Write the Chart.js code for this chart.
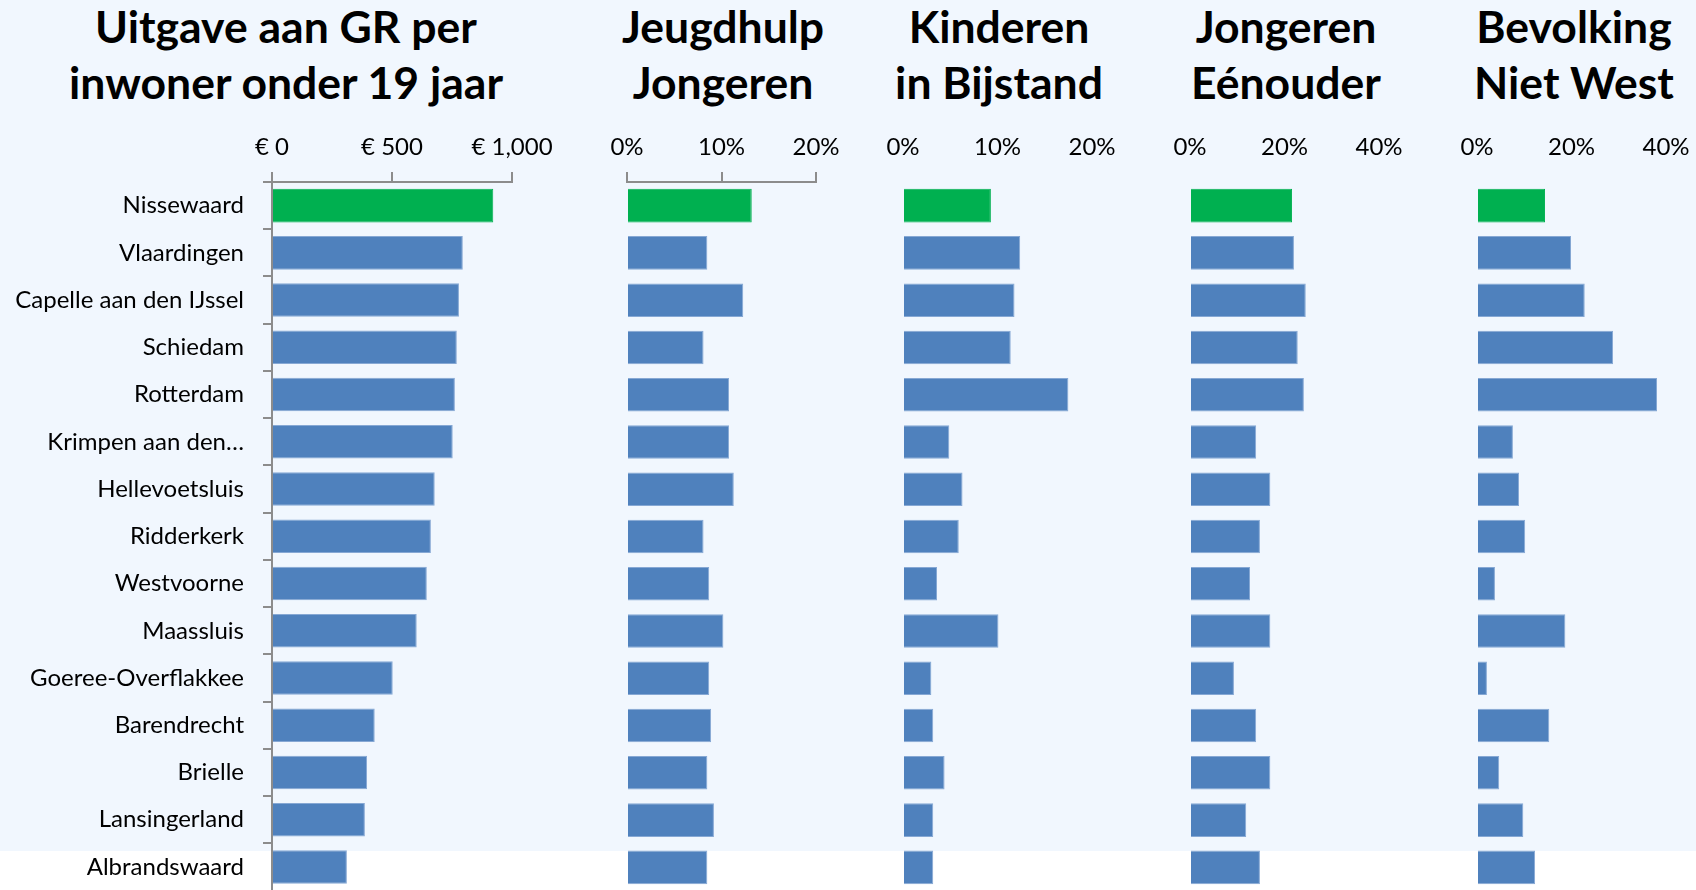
<!DOCTYPE html>
<html lang="nl">
<head>
<meta charset="UTF-8">
<title>Uitgave aan GR per inwoner onder 19 jaar</title>
<script src="https://cdn.jsdelivr.net/npm/chart.js@4"></script>
<style>
  * { margin: 0; padding: 0; box-sizing: border-box; }
  html, body { width: 1696px; height: 890px; overflow: hidden; background: #fff; font-family: Lato, 'Open Sans', sans-serif; }
  .band { position: absolute; left: 0; top: 0; width: 1696px; height: 851px; background: #F1F7FE; }
  .title { position: absolute; top: -2px; font-weight: 700; font-size: 44.5px; line-height: 56px; text-align: center; color: #000; white-space: nowrap; transform: translateX(-50%); }
  canvas { position: absolute; top: 100px; }
</style>
</head>
<body>
<div class="band"></div>
<div class="title" style="left:286px">Uitgave aan GR per<br>inwoner onder 19 jaar</div>
<div class="title" style="left:723px">Jeugdhulp<br>Jongeren</div>
<div class="title" style="left:999px">Kinderen<br>in Bijstand</div>
<div class="title" style="left:1286px">Jongeren<br>Eénouder</div>
<div class="title" style="left:1574px">Bevolking<br>Niet West</div>

<canvas id="c1" width="572" height="824" style="left:0px"></canvas>
<canvas id="c2" width="259" height="795" style="left:597px"></canvas>
<canvas id="c3" width="259" height="795" style="left:873px"></canvas>
<canvas id="c4" width="259" height="795" style="left:1160px"></canvas>
<canvas id="c5" width="259" height="795" style="left:1447px"></canvas>

<script>
const categories = ['Nissewaard', 'Vlaardingen', 'Capelle aan den IJssel', 'Schiedam', 'Rotterdam',
  'Krimpen aan den\u2026', 'Hellevoetsluis', 'Ridderkerk', 'Westvoorne', 'Maassluis',
  'Goeree-Overflakkee', 'Barendrecht', 'Brielle', 'Lansingerland', 'Albrandswaard'];

// euro per inwoner < 19 jaar
const uitgaveGR = [922, 795, 779, 770, 762, 753, 678, 662, 645, 603, 503, 428, 396, 387, 312];
// percentages
const jeugdhulp = [13.2, 8.5, 12.3, 8.1, 10.8, 10.8, 11.3, 8.1, 8.7, 10.2, 8.7, 8.9, 8.5, 9.2, 8.5];
const bijstand  = [9.3, 12.4, 11.8, 11.4, 17.5, 4.9, 6.3, 5.9, 3.6, 10.1, 3.0, 3.2, 4.4, 3.2, 3.2];
const eenouder  = [21.6, 22.0, 24.5, 22.8, 24.1, 14.0, 17.0, 14.8, 12.7, 17.0, 9.3, 14.0, 17.0, 11.9, 14.8];
const nietWest  = [14.4, 19.9, 22.8, 28.8, 38.1, 7.6, 8.9, 10.2, 3.8, 18.7, 2.1, 15.3, 4.7, 9.8, 12.3];

const euroTicks = [0, 500, 1000];
const pct20Ticks = [0, 10, 20];
const pct40Ticks = [0, 20, 40];

const highlight = 'Nissewaard';
const BLUE = '#4F81BD';
const GREEN = '#00B050';
const AXIS = '#8C8C8C';
const barColors = categories.map(c => c === highlight ? GREEN : BLUE);
const barBorders = categories.map(c => c === highlight ? GREEN : '#86A8D4');

const tickFont = { family: 'Lato', size: 24 };

function makeChart(id, values, ticks, fmt, opts) {
  const max = ticks[ticks.length - 1];
  const step = ticks[1] - ticks[0];
  return new Chart(document.getElementById(id), {
    type: 'bar',
    data: {
      labels: categories,
      datasets: [{ data: values, backgroundColor: barColors, borderColor: barBorders, borderWidth: 1,
        categoryPercentage: 1, barPercentage: 0.71 }]
    },
    options: {
      indexAxis: 'y',
      responsive: false,
      animation: false,
      layout: { padding: opts.padding },
      plugins: { legend: { display: false }, tooltip: { enabled: false } },
      scales: {
        x: {
          position: 'top',
          min: 0, max: max,
          afterBuildTicks: s => { s.ticks = ticks.map(v => ({ value: v })); },
          afterFit: s => { s.height = 82; },
          ticks: { stepSize: step, color: '#000', font: tickFont, padding: 10, maxRotation: 0, callback: fmt },
          grid: { drawOnChartArea: false, tickLength: 10, color: opts.xAxis ? AXIS : 'transparent', lineWidth: 2 },
          border: { display: opts.xAxis, color: AXIS, width: 2 }
        },
        y: opts.yAxis ? {
          afterFit: s => { s.width = 272; },
          ticks: { color: '#000', font: tickFont, padding: 19 },
          grid: { drawOnChartArea: false, tickLength: 9, color: AXIS, lineWidth: 2 },
          border: { color: AXIS, width: 2 }
        } : { display: false }
      }
    }
  });
}

const euro = v => '\u20AC ' + v.toLocaleString('en-US');
const pct = v => v + '%';

makeChart('c1', uitgaveGR, euroTicks, euro, { padding: { left: 0, right: 60, top: 0, bottom: 4 }, xAxis: true, yAxis: true });
makeChart('c2', jeugdhulp, pct20Ticks, pct, { padding: { left: 30, right: 40, top: 0, bottom: 4 }, xAxis: true, yAxis: false });
makeChart('c3', bijstand, pct20Ticks, pct, { padding: { left: 30, right: 40, top: 0, bottom: 4 }, xAxis: false, yAxis: false });
makeChart('c4', eenouder, pct40Ticks, pct, { padding: { left: 30, right: 40, top: 0, bottom: 4 }, xAxis: false, yAxis: false });
makeChart('c5', nietWest, pct40Ticks, pct, { padding: { left: 30, right: 40, top: 0, bottom: 4 }, xAxis: false, yAxis: false });
</script>
</body>
</html>
